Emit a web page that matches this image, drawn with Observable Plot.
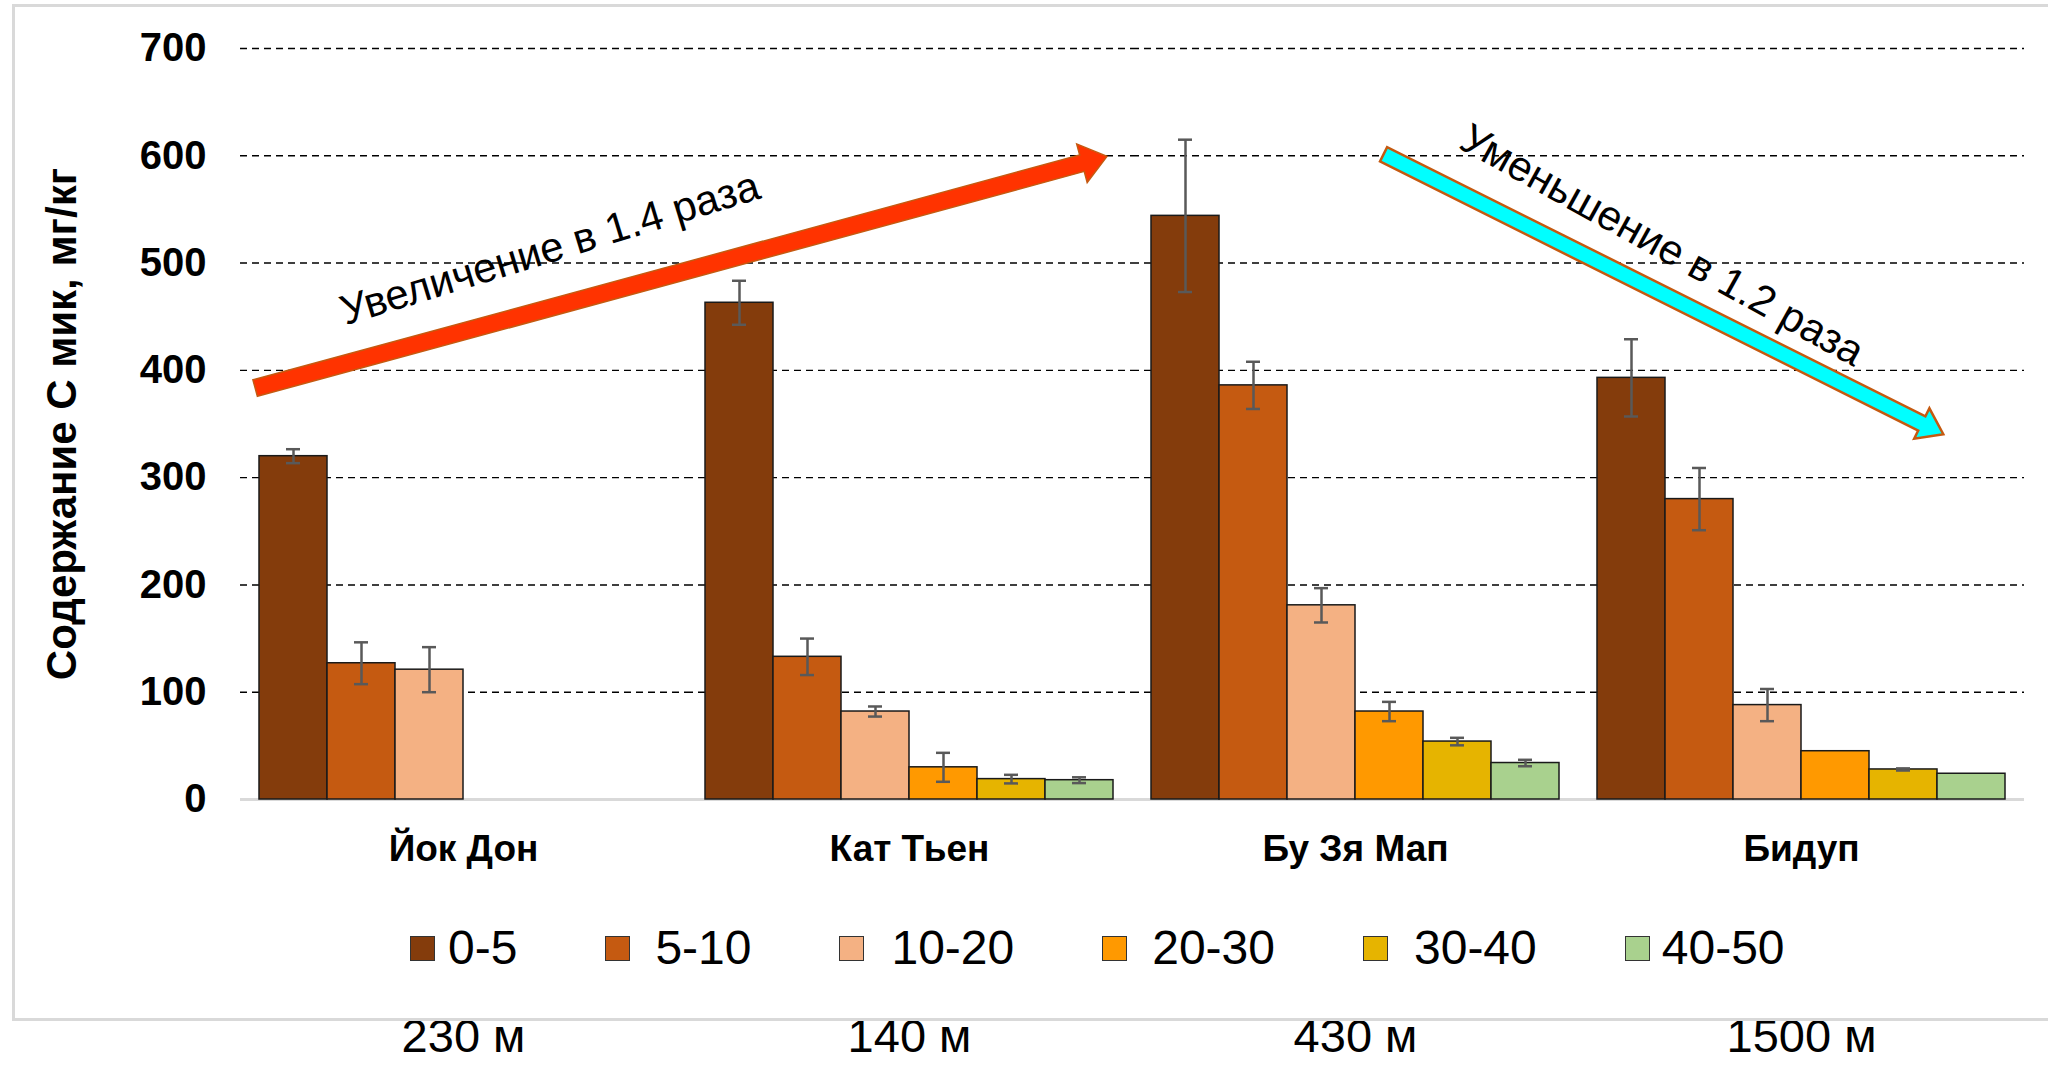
<!DOCTYPE html>
<html>
<head>
<meta charset="utf-8">
<script src="https://cdn.jsdelivr.net/npm/d3@7"></script>
<script src="https://cdn.jsdelivr.net/npm/@observablehq/plot@0.6"></script>
<style>
  html, body { margin: 0; padding: 0; background: #fff; overflow: hidden; }
  #wrap { position: relative; width: 2048px; height: 1072px; font-family: 'Liberation Sans', Arial, sans-serif; }
  #wrap svg { position: absolute; left: 0; top: 0; }
  #frame { position: absolute; left: 12px; top: 4px; width: 2060px; height: 1017px; border: 3px solid #d9d9d9; box-sizing: border-box; pointer-events: none; z-index: 2; }
  #legend { position: absolute; left: 410px; top: 924px; display: flex; align-items: center; z-index: 3; }
  #legend .item { display: flex; align-items: center; }
  #legend .sw { width: 25px; height: 25px; box-sizing: border-box; border: 1.5px solid #333; }
  #legend .lab { font-size: 48px; line-height: 48px; color: #000; }
</style>
</head>
<body>
<div id="wrap"><div id="frame"></div></div>
<script>
// ---------- data ----------
const sites = ["Йок Дон", "Кат Тьен", "Бу Зя Мап", "Бидуп"];
const altitudes = ["230 м", "140 м", "430 м", "1500 м"];
const depths = ["0-5", "5-10", "10-20", "20-30", "30-40", "40-50"];
const colors = ["#843C0C", "#C55A11", "#F4B183", "#FF9900", "#E6B400", "#A9D18E"];

// values per depth layer, one per site (null = no data)
const v0_5   = [320, 463, 544, 393];
const v5_10  = [127, 133, 386, 280];
const v10_20 = [121,  82, 181,  88];
const v20_30 = [null, 30,  82,  45];
const v30_40 = [null, 19,  54,  28];
const v40_50 = [null, 18,  34,  24];

// error half-widths
const e0_5   = [6.5, 20.5, 71, 36];
const e5_10  = [19.5, 17, 22, 29];
const e10_20 = [21, 4.7, 16, 15];
const e20_30 = [null, 13.5, 9, 0];
const e30_40 = [null, 4, 3.5, 1];
const e40_50 = [null, 2.7, 3, 0];

const yTicks = [0, 100, 200, 300, 400, 500, 600, 700];
const yTitle = "Содержание С мик, мг/кг";

// annotation arrows: [site, fraction of site band, value]
const arrowUp   = { from: ["Йок Дон", 0.034, 383], to: ["Кат Тьен", 0.944, 599] };
const arrowDown = { from: ["Бу Зя Мап", 0.564, 601], to: ["Бидуп", 0.819, 340] };
const noteUp    = { at: ["Йок Дон", 0.694, 514], text: "Увеличение в 1.4 раза", angle: -17 };
const noteDown  = { at: ["Бидуп", 0.19, 517], text: "Уменьшение в 1.2 раза", angle: 29 };

// ---------- build table ----------
const values = [v0_5, v5_10, v10_20, v20_30, v30_40, v40_50];
const errors = [e0_5, e5_10, e10_20, e20_30, e30_40, e40_50];
const rows = [];
depths.forEach((d, j) => sites.forEach((s, i) => {
  const v = values[j][i];
  if (v != null) rows.push({ site: s, depth: d, value: v, err: errors[j][i] || 0 });
}));
const errRows = rows.filter(r => r.err > 0);
const siteRows = sites.map((s, i) => ({ site: s, alt: altitudes[i] }));

const errStyle = { stroke: "#595959", strokeWidth: 2.5 };

const plot = Plot.plot({
  width: 2048,
  height: 1072,
  marginTop: 48,
  marginBottom: 273,
  marginLeft: 239,
  marginRight: 23,
  style: { fontFamily: "'Liberation Sans', Arial, sans-serif", background: "transparent", color: "#000", overflow: "visible" },
  fx: { domain: sites, padding: 0 },
  x: { domain: depths, paddingInner: 0, paddingOuter: 0.25, axis: null },
  y: { domain: [0, 700] },
  color: { domain: depths, range: colors },
  marks: [
    Plot.ruleY(yTicks.filter(t => t > 0), { stroke: "#000", strokeWidth: 1.4, strokeDasharray: "7,5" }),
    Plot.ruleY([0], { stroke: "#d9d9d9", strokeWidth: 3 }),
    Plot.barY(rows, { fx: "site", x: "depth", y: "value", fill: "depth", stroke: "#1a1a1a", strokeWidth: 1.5 }),
    Plot.ruleX(errRows, { fx: "site", x: "depth", y1: d => d.value - d.err, y2: d => d.value + d.err, ...errStyle }),
    Plot.tickY(errRows, { fx: "site", x: "depth", y: d => d.value + d.err, insetLeft: 27, insetRight: 27, ...errStyle }),
    Plot.tickY(errRows, { fx: "site", x: "depth", y: d => d.value - d.err, insetLeft: 27, insetRight: 27, ...errStyle }),
    Plot.axisY({ ticks: yTicks, tickSize: 0, tickPadding: 34, fontSize: 40, fontWeight: "bold", label: null }),
    Plot.axisY({ ticks: [], label: yTitle, labelAnchor: "center", labelArrow: "none", labelOffset: 194, fontSize: 42, fontWeight: "bold" }),
    Plot.axisFx({ anchor: "bottom", tickSize: 0, tickPadding: 35, fontSize: 37, fontWeight: "bold", label: null }),
    Plot.text(siteRows, { fx: "site", text: "alt", frameAnchor: "bottom", dy: 252, fontSize: 47, fill: "#000" })
  ]
});
document.getElementById("wrap").appendChild(plot);

// ---------- annotation arrows (positioned through the plot's scales) ----------
let fxS = null, yS = plot.scale("y");
try { fxS = plot.scale("fx"); } catch (e) { fxS = null; }
let fxApply, bw;
if (fxS && fxS.apply) { fxApply = fxS.apply; bw = fxS.bandwidth; }
else {
  const b = d3.scaleBand().domain(sites).range([239, 2025]).padding(0);
  fxApply = b; bw = b.bandwidth();
}
const px = ([s, f, v]) => [fxApply(s) + f * bw, yS.apply(v)];

function arrowPath(p1, p2, w, hw, hl) {
  const [x1, y1] = p1, [x2, y2] = p2;
  const dx = x2 - x1, dy = y2 - y1, L = Math.hypot(dx, dy);
  const ux = dx / L, uy = dy / L, nx = -uy, ny = ux;
  const bx = x2 - ux * hl, by = y2 - uy * hl;
  const pts = [
    [x1 + nx * w / 2, y1 + ny * w / 2], [bx + nx * w / 2, by + ny * w / 2], [bx + nx * hw / 2, by + ny * hw / 2],
    [x2, y2], [bx - nx * hw / 2, by - ny * hw / 2], [bx - nx * w / 2, by - ny * w / 2], [x1 - nx * w / 2, y1 - ny * w / 2]
  ];
  return "M" + pts.map(p => p[0].toFixed(1) + "," + p[1].toFixed(1)).join("L") + "Z";
}

const g = d3.select(plot).append("g");
g.append("path").attr("d", arrowPath(px(arrowUp.from), px(arrowUp.to), 17, 40, 26))
  .attr("fill", "#FF3300").attr("stroke", "#C55A11").attr("stroke-width", 1.5);
g.append("path").attr("d", arrowPath(px(arrowDown.from), px(arrowDown.to), 16, 34, 24))
  .attr("fill", "#00FFFF").attr("stroke", "#C55A11").attr("stroke-width", 2.5);
[noteUp, noteDown].forEach(n => {
  const [x, y] = px(n.at);
  g.append("text").attr("transform", `translate(${x},${y}) rotate(${n.angle})`)
    .attr("text-anchor", "middle").attr("dy", "0.35em")
    .attr("font-size", 42).attr("fill", "#000").text(n.text);
});

// ---------- legend ----------
const swGap = [13, 25, 27, 25, 26, 12];
const legend = d3.select("#wrap").append("div").attr("id", "legend");
depths.forEach((d, i) => {
  const it = legend.append("div").attr("class", "item").style("margin-right", i < depths.length - 1 ? "88px" : "0");
  it.append("div").attr("class", "sw").style("background", colors[i]).style("margin-right", swGap[i] + "px");
  it.append("div").attr("class", "lab").text(d);
});
</script>
</body>
</html>
